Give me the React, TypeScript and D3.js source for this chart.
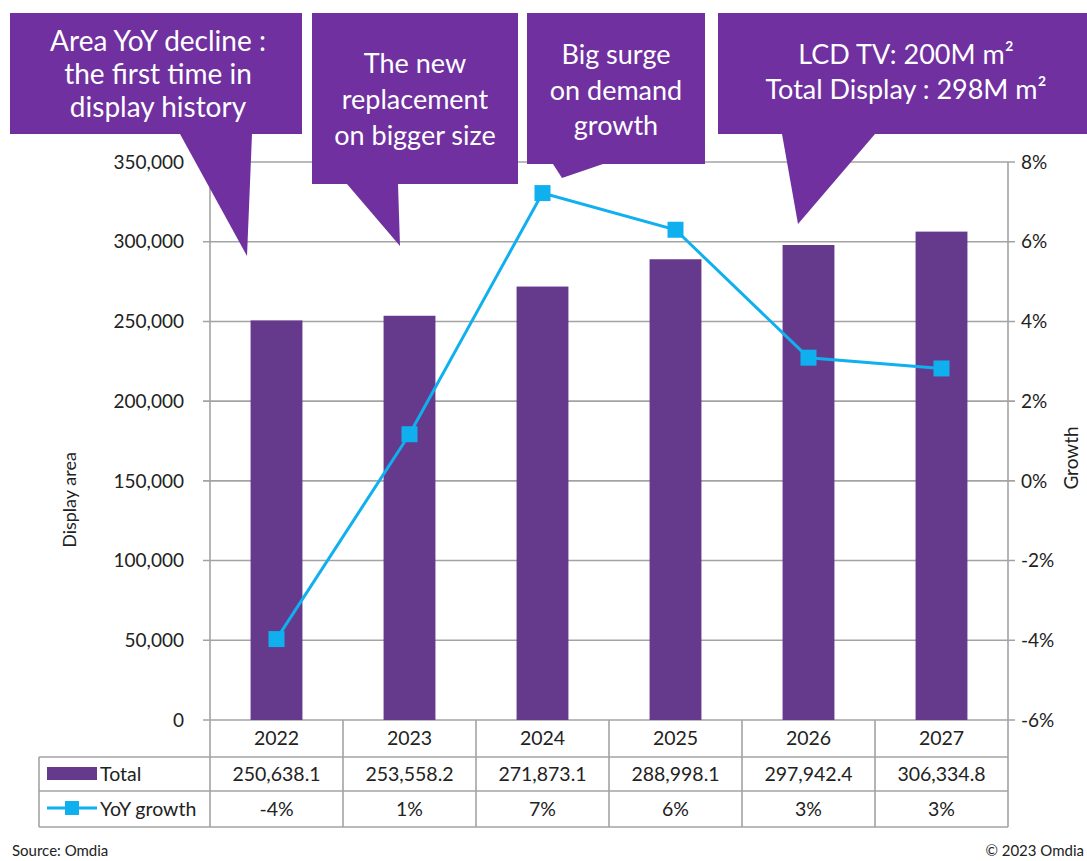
import React from "react";
import * as d3 from "d3";

const years = ["2022", "2023", "2024", "2025", "2026", "2027"];
const totals = [250638.1, 253558.2, 271873.1, 288998.1, 297942.4, 306334.8];
const growth = [-3.97, 1.17, 7.22, 6.3, 3.09, 2.82];
const leftTicks = [0, 50000, 100000, 150000, 200000, 250000, 300000, 350000];
const rightTicks = [-6, -4, -2, 0, 2, 4, 6, 8];
const callouts = [
  { lines: ["Area YoY decline :", "the first time in", "display history"], box: [10, 13, 302, 134], ptr: [[180, 134], [252, 134], [247, 256]], cx: 158, y0: 51, dy: 33, fs: 28 },
  { lines: ["The new", "replacement", "on bigger size"], box: [312, 13, 518, 184], ptr: [[347, 184], [398, 184], [400, 246]], cx: 415, y0: 73, dy: 36, fs: 27 },
  { lines: ["Big surge", "on demand", "growth"], box: [527, 13, 705, 164], ptr: [[553, 164], [603, 164], [562, 178]], cx: 616, y0: 64, dy: 35.5, fs: 27 },
  { lines: ["LCD TV: 200M m²", "Total Display : 298M m²"], box: [718, 13, 1090, 134], ptr: [[782, 134], [875, 134], [798, 224]], cx: 906, y0: 64, dy: 35, fs: 27 },
];

const W = 1087, H = 861;
const FONT = "Lato, 'Open Sans', sans-serif";
const BAR = "#653a8c";
const LINE = "#10b0ee";
const CALL = "#7030a0";
const GRID = "#a3a3a3";

export default function App() {
  const plotL = 210, plotR = 1008, plotT = 162, plotB = 720;
  const x = d3.scaleBand<string>().domain(years).range([plotL, plotR]).padding(0);
  const yL = d3.scaleLinear().domain([0, 350000]).range([plotB, plotT]);
  const yR = d3.scaleLinear().domain([-6, 8]).range([plotB, plotT]);
  const bw = x.bandwidth() * 0.39;
  const fmtTick = d3.format(",");
  const fmtVal = d3.format(",.1f");
  const fmtPct = (v: number) => `${Math.round(v)}%`;
  const lineGen = d3
    .line<number>()
    .x((_, i) => (x(years[i]) as number) + x.bandwidth() / 2)
    .y((d) => yR(d));
  const rowY = [plotB, 757, 791, 827];
  const tableL = 39;
  const ms = 16;
  const TFS = 19.5;

  return (
    <svg width={W} height={H} style={{ position: "absolute", left: 0, top: 0, fontFamily: FONT }}>
      <rect width={W} height={H} fill="#fff" />
      {leftTicks.map((t) => (
        <line key={t} x1={plotL - 7} x2={plotR + 7} y1={yL(t)} y2={yL(t)} stroke={GRID} strokeWidth={1.6} />
      ))}
      <line x1={plotL} x2={plotL} y1={plotT} y2={rowY[3]} stroke={GRID} strokeWidth={1.6} />
      <line x1={plotR} x2={plotR} y1={plotT} y2={rowY[3]} stroke={GRID} strokeWidth={1.6} />
      {leftTicks.map((t) => (
        <text key={t} x={184} y={yL(t)} dy="0.35em" textAnchor="end" fontSize={19} fill="#222">
          {fmtTick(t)}
        </text>
      ))}
      {rightTicks.map((t) => (
        <text key={t} x={1021} y={yR(t)} dy="0.35em" textAnchor="start" fontSize={19} fill="#222">
          {`${t}%`}
        </text>
      ))}
      <text transform={`translate(76,500) rotate(-90)`} textAnchor="middle" fontSize={18} fill="#222">
        Display area
      </text>
      <text transform={`translate(1078,458) rotate(-90)`} textAnchor="middle" fontSize={19} fill="#222">
        Growth
      </text>
      {totals.map((v, i) => {
        const cx = (x(years[i]) as number) + x.bandwidth() / 2;
        return <rect key={i} x={cx - bw / 2} y={yL(v)} width={bw} height={plotB - yL(v)} fill={BAR} />;
      })}
      <path d={lineGen(growth) || ""} fill="none" stroke={LINE} strokeWidth={3} />
      {growth.map((v, i) => {
        const cx = (x(years[i]) as number) + x.bandwidth() / 2;
        return <rect key={i} x={cx - ms / 2} y={yR(v) - ms / 2} width={ms} height={ms} fill={LINE} />;
      })}
      {rowY.slice(1).map((y, i) => (
        <line key={i} x1={tableL} x2={plotR} y1={y} y2={y} stroke={GRID} strokeWidth={1.6} />
      ))}
      <line x1={tableL} x2={tableL} y1={rowY[1]} y2={rowY[3]} stroke={GRID} strokeWidth={1.6} />
      {years.slice(1).map((yr) => (
        <line key={yr} x1={x(yr) as number} x2={x(yr) as number} y1={rowY[0]} y2={rowY[3]} stroke={GRID} strokeWidth={1.6} />
      ))}
      {years.map((yr, i) => {
        const cx = (x(yr) as number) + x.bandwidth() / 2;
        return (
          <g key={yr} fontSize={TFS} fill="#222" textAnchor="middle">
            <text x={cx} y={(rowY[0] + rowY[1]) / 2} dy="0.35em">{yr}</text>
            <text x={cx} y={(rowY[1] + rowY[2]) / 2} dy="0.35em">{fmtVal(totals[i])}</text>
            <text x={cx} y={(rowY[2] + rowY[3]) / 2} dy="0.35em">{fmtPct(growth[i])}</text>
          </g>
        );
      })}
      <rect x={47} y={767} width={50} height={13} fill={BAR} />
      <text x={100} y={(rowY[1] + rowY[2]) / 2} dy="0.35em" fontSize={TFS} fill="#222">Total</text>
      <line x1={47} x2={97} y1={808} y2={808} stroke={LINE} strokeWidth={3} />
      <rect x={65} y={801} width={14} height={14} fill={LINE} />
      <text x={100} y={(rowY[2] + rowY[3]) / 2} dy="0.35em" fontSize={TFS} fill="#222">YoY growth</text>
      {callouts.map((c, i) => {
        const [x0, y0, x1, y1] = c.box;
        return (
          <g key={i}>
            <rect x={x0} y={y0} width={x1 - x0} height={y1 - y0} fill={CALL} />
            <path d={`M${c.ptr.map((p) => p.join(",")).join("L")}Z`} fill={CALL} />
            {c.lines.map((l, j) => (
              <text key={j} x={c.cx} y={c.y0 + j * c.dy} textAnchor="middle" fontSize={c.fs} fill="#fff">
                {l}
              </text>
            ))}
          </g>
        );
      })}
      <text x={12} y={856} fontSize={15} fill="#222">Source: Omdia</text>
      <text x={1084} y={856} textAnchor="end" fontSize={15} fill="#222">© 2023 Omdia</text>
    </svg>
  );
}
